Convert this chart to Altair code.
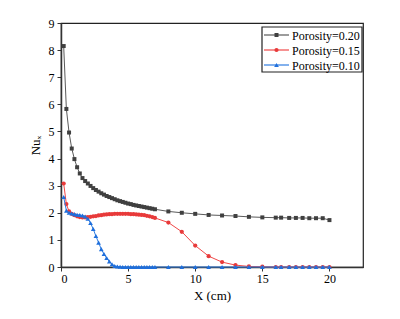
import altair as alt
import pandas as pd

# ---- data ----
x_vals = [0.2, 0.4, 0.6, 0.8, 1.0, 1.2, 1.4, 1.6, 1.8, 2.0, 2.2, 2.4, 2.6, 2.8, 3.0,
          3.2, 3.4, 3.6, 3.8, 4.0, 4.2, 4.4, 4.6, 4.8, 5.0, 5.2, 5.4, 5.6, 5.8, 6.0,
          6.2, 6.4, 6.6, 6.8, 7.0,
          8, 9, 10, 11, 12, 13, 14, 15,
          16, 16.4, 17, 17.5, 18, 18.5, 19, 19.5, 20]

nu_020 = [8.15, 5.83, 4.96, 4.37, 3.98, 3.68, 3.45, 3.28, 3.17, 3.08, 2.99, 2.91, 2.84, 2.78, 2.72,
          2.67, 2.62, 2.58, 2.54, 2.50, 2.46, 2.43, 2.40, 2.37, 2.34, 2.32, 2.29, 2.27, 2.25, 2.23,
          2.21, 2.19, 2.17, 2.15, 2.13,
          2.05, 2.00, 1.96, 1.92, 1.90, 1.88, 1.85, 1.83,
          1.82, 1.82, 1.81, 1.81, 1.81, 1.80, 1.80, 1.80, 1.73]

nu_015 = [3.08, 2.32, 2.05, 1.96, 1.91, 1.87, 1.84, 1.83, 1.83, 1.84, 1.85, 1.87, 1.88, 1.90, 1.91,
          1.93, 1.94, 1.95, 1.95, 1.96, 1.96, 1.96, 1.96, 1.96, 1.96, 1.95, 1.95, 1.94, 1.93, 1.92,
          1.91, 1.89, 1.87, 1.84, 1.81,
          1.64, 1.30, 0.79, 0.40, 0.18, 0.07, 0.02, 0.01,
          0, 0, 0, 0, 0, 0, 0, 0, 0]

nu_010 = [2.58, 2.08, 2.00, 1.97, 1.95, 1.93, 1.92, 1.90, 1.86, 1.78, 1.62, 1.40, 1.14, 0.90, 0.66,
          0.48, 0.33, 0.20, 0.10, 0.04, 0.02, 0.01, 0, 0, 0, 0, 0, 0, 0, 0,
          0, 0, 0, 0, 0,
          0, 0, 0, 0, 0, 0, 0, 0,
          0, 0, 0, 0, 0, 0, 0, 0, 0]

series_names = ["Porosity=0.20", "Porosity=0.15", "Porosity=0.10"]
series_values = [nu_020, nu_015, nu_010]
line_colors = ["#5a5a5a", "#f04848", "#2f7de1"]
marker_colors = ["#404040", "#e83a3a", "#1f6fdc"]
marker_shapes = ["square", "circle", "triangle-up"]
marker_sizes = [16, 18, 22]

x_ticks = [0, 5, 10, 15, 20]
y_ticks = [0, 1, 2, 3, 4, 5, 6, 7, 8, 9]

FONT = "Liberation Serif"

x_scale = alt.Scale(domain=[0, 22.5], nice=False)
y_scale = alt.Scale(domain=[0, 9], nice=False)

x_axis = alt.Axis(values=x_ticks, title="X (cm)", grid=False, labelFont=FONT, titleFont=FONT,
                  labelFontSize=12, titleFontSize=13, titleFontWeight="normal",
                  labelColor="#000", titleColor="#000", tickColor="#333", domainColor="#333",
                  domainWidth=1.5, tickSize=4, labelPadding=2, titlePadding=5)
y_axis = alt.Axis(values=y_ticks, title="Nuₓ", grid=False, labelFont=FONT, titleFont=FONT,
                  labelFontSize=12, titleFontSize=13, titleFontWeight="normal",
                  labelColor="#000", titleColor="#000", tickColor="#333", domainColor="#333",
                  domainWidth=1.5, tickSize=4, labelPadding=3, titlePadding=6)

layers = []
for i, name in enumerate(series_names):
    df = pd.DataFrame({"x": x_vals, "y": series_values[i]})
    base = alt.Chart(df).encode(
        x=alt.X("x:Q", scale=x_scale, axis=x_axis),
        y=alt.Y("y:Q", scale=y_scale, axis=y_axis),
    )
    layers.append(base.mark_line(color=line_colors[i], strokeWidth=1))
    layers.append(base.mark_point(shape=marker_shapes[i], filled=True, opacity=1,
                                  color=marker_colors[i], size=marker_sizes[i]))

# ---- legend (drawn manually to show line + marker) ----
one = pd.DataFrame({"a": [0]})
layers.append(alt.Chart(one).mark_rect(fill="white", stroke="#222", strokeWidth=1.2).encode(
    x=alt.value(201), x2=alt.value(301), y=alt.value(4), y2=alt.value(49)))
row_y = [12, 27, 42]
for i, name in enumerate(series_names):
    layers.append(alt.Chart(one).mark_rule(color=line_colors[i], strokeWidth=1.2).encode(
        x=alt.value(203), x2=alt.value(228), y=alt.value(row_y[i])))
    layers.append(alt.Chart(one).mark_point(shape=marker_shapes[i], filled=True, opacity=1,
                                            color=marker_colors[i], size=marker_sizes[i]).encode(
        x=alt.value(215.5), y=alt.value(row_y[i])))
    layers.append(alt.Chart(one).mark_text(text=name, align="left", baseline="middle",
                                           font=FONT, fontSize=12, color="#000").encode(
        x=alt.value(231), y=alt.value(row_y[i] + 0.5)))

chart = alt.layer(*layers).properties(
    width=302, height=244,
    background="white",
    autosize=alt.AutoSizeParams(type="none"),
    padding={"left": 53, "top": 15, "right": 29, "bottom": 52},
).configure_view(stroke="#222", strokeWidth=1.2)

chart.save("out.html", embed_options={"renderer": "svg", "actions": False})
